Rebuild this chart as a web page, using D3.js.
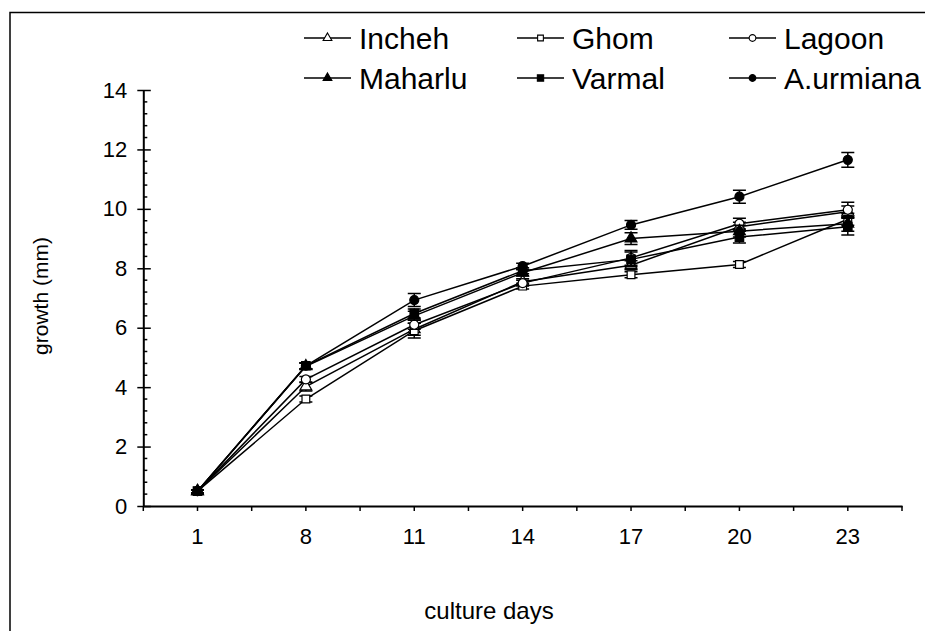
<!DOCTYPE html>
<html>
<head>
<meta charset="utf-8">
<script src="https://cdn.jsdelivr.net/npm/d3@7"></script>
<style>
  html, body { margin: 0; padding: 0; background: #fff; }
  svg { display: block; font-family: Arial, "Liberation Sans", sans-serif; }
</style>
</head>
<body>
<svg id="chart" width="925" height="631"></svg>
<script>
// Culture days (x categories) and growth in mm for each strain
const days = ["1", "8", "11", "14", "17", "20", "23"];
const seriesNames = ["Incheh", "Ghom", "Lagoon", "Maharlu", "Varmal", "A.urmiana"];
const incheh   = [0.5, 4.02, 5.95, 7.55, 8.10, 9.40, 9.90];
const ghom     = [0.5, 3.60, 5.90, 7.40, 7.78, 8.13, 9.65];
const lagoon   = [0.5, 4.26, 6.10, 7.50, 8.35, 9.50, 9.97];
const maharlu  = [0.5, 4.70, 6.40, 7.85, 9.00, 9.25, 9.50];
const varmal   = [0.5, 4.72, 6.48, 7.92, 8.30, 9.05, 9.40];
const aurmiana = [0.5, 4.72, 6.93, 8.07, 9.46, 10.41, 11.65];
// Standard errors
const inchehErr  = [0.05, 0.15, 0.20, 0.10, 0.15, 0.15, 0.20];
const ghomErr    = [0.05, 0.10, 0.25, 0.10, 0.10, 0.10, 0.20];
const lagoonErr  = [0.05, 0.10, 0.15, 0.10, 0.25, 0.18, 0.25];
const maharluErr = [0.05, 0.10, 0.15, 0.10, 0.20, 0.20, 0.25];
const varmalErr  = [0.05, 0.10, 0.15, 0.10, 0.25, 0.20, 0.28];
const aurmianaErr= [0.05, 0.10, 0.22, 0.10, 0.15, 0.22, 0.25];
const yTicks = [0, 2, 4, 6, 8, 10, 12, 14];

const values = [incheh, ghom, lagoon, maharlu, varmal, aurmiana];
const errors = [inchehErr, ghomErr, lagoonErr, maharluErr, varmalErr, aurmianaErr];
// marker shape and fill per series
const shapes = [d3.symbolTriangle, d3.symbolSquare, d3.symbolCircle,
                d3.symbolTriangle, d3.symbolSquare, d3.symbolCircle];
const filled = [false, false, false, true, true, true];
const symSize = [60, 60, 64, 60, 72, 64];

const series = seriesNames.map((name, i) => ({
  name, shape: shapes[i], filled: filled[i], size: symSize[i],
  points: days.map((d, j) => ({ day: d, v: values[i][j], e: errors[i][j] }))
}));

const svg = d3.select("#chart");
const plotL = 143.3, plotR = 902, plotT = 90, plotB = 506;

// outer frame
svg.append("rect").attr("x", 10).attr("y", 12.5).attr("width", 940).attr("height", 640)
  .attr("fill", "none").attr("stroke", "#000").attr("stroke-width", 1.5);

const x = d3.scaleBand().domain(days).range([plotL, plotR]).paddingInner(0).paddingOuter(0);
const y = d3.scaleLinear().domain([0, 14]).range([plotB, plotT]);

// x axis
const xAxis = svg.append("g").attr("transform", `translate(0,${plotB})`)
  .call(d3.axisBottom(x).tickSizeInner(5).tickSizeOuter(0).tickPadding(17));
xAxis.select(".domain").attr("stroke-width", 2);
xAxis.selectAll(".tick line").attr("stroke-width", 1.5);
xAxis.selectAll(".tick text").attr("font-size", 22).attr("fill", "#000")
  .attr("font-family", "Arial, 'Liberation Sans', sans-serif");
// ticks at category boundaries
const edges = days.map(d => x(d)).concat([x(days[days.length - 1]) + x.bandwidth()]);
xAxis.selectAll("line.edge").data(edges).join("line").attr("class", "edge")
  .attr("x1", d => d).attr("x2", d => d).attr("y1", 0).attr("y2", 5)
  .attr("stroke", "#000").attr("stroke-width", 1.5);

// y axis
const yAxis = svg.append("g").attr("transform", `translate(${plotL},0)`)
  .call(d3.axisLeft(y).tickValues(yTicks).tickSizeInner(6).tickSizeOuter(0).tickPadding(10));
yAxis.select(".domain").attr("stroke-width", 2);
yAxis.selectAll(".tick line").attr("x2", 7.5).attr("x1", -6).attr("stroke-width", 1.5);
yAxis.selectAll(".tick text").attr("font-size", 22).attr("fill", "#000")
  .attr("font-family", "Arial, 'Liberation Sans', sans-serif");
// minor ticks every 0.4
const minor = d3.range(0, 14.0001, 0.4).filter(v => Math.abs(v / 2 - Math.round(v / 2)) > 1e-6);
yAxis.selectAll("line.minor").data(minor).join("line").attr("class", "minor")
  .attr("x1", 0).attr("x2", 4).attr("y1", d => y(d)).attr("y2", d => y(d))
  .attr("stroke", "#000").attr("stroke-width", 1.5);

// axis titles
svg.append("text").attr("x", 489).attr("y", 619).attr("text-anchor", "middle")
  .attr("font-size", 24).text("culture days");
svg.append("text").attr("transform", "translate(48,296) rotate(-90)")
  .attr("text-anchor", "middle").attr("font-size", 21).text("growth (mm)");

const cx = d => x(d) + x.bandwidth() / 2;
const line = d3.line().x(p => cx(p.day)).y(p => y(p.v));

// lines
svg.append("g").selectAll("path").data(series).join("path")
  .attr("d", s => line(s.points)).attr("fill", "none")
  .attr("stroke", "#000").attr("stroke-width", 1.5);

// error bars + markers
const g = svg.append("g");
series.forEach(s => {
  const sg = g.append("g");
  sg.selectAll("path.err").data(s.points).join("path").attr("class", "err")
    .attr("d", p => {
      const px = cx(p.day), y1 = y(p.v + p.e), y2 = y(p.v - p.e);
      return `M${px - 6.5},${y1}H${px + 6.5}M${px},${y1}V${y2}M${px - 6.5},${y2}H${px + 6.5}`;
    })
    .attr("stroke", "#000").attr("stroke-width", 1.5).attr("fill", "none");
  sg.selectAll("path.mk").data(s.points).join("path").attr("class", "mk")
    .attr("transform", p => `translate(${cx(p.day)},${y(p.v)})`)
    .attr("d", d3.symbol().type(s.shape).size(s.size))
    .attr("fill", s.filled ? "#000" : "#fff")
    .attr("stroke", "#000").attr("stroke-width", 1.2);
});

// legend: 3 columns x 2 rows
const legCols = [304, 517, 729];
const legRows = [38, 78];
const leg = svg.append("g");
series.forEach((s, i) => {
  const lx = legCols[i % 3], ly = legRows[Math.floor(i / 3)];
  const lg = leg.append("g").attr("transform", `translate(${lx},${ly})`);
  lg.append("line").attr("x1", 0).attr("x2", 47).attr("y1", 0).attr("y2", 0)
    .attr("stroke", "#000").attr("stroke-width", 1.5);
  lg.append("path").attr("transform", "translate(23.5,0)")
    .attr("d", d3.symbol().type(s.shape).size(s.size * 0.55))
    .attr("fill", s.filled ? "#000" : "#fff").attr("stroke", "#000").attr("stroke-width", 1.1);
  lg.append("text").attr("x", 55).attr("y", 0).attr("dy", "0.36em")
    .attr("font-size", 30).text(s.name);
});
</script>
</body>
</html>
